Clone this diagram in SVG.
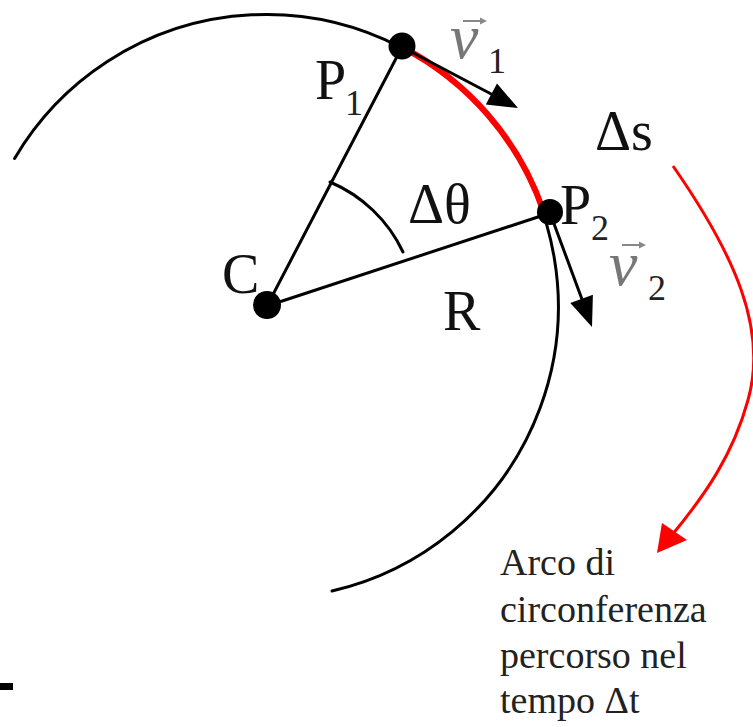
<svg xmlns="http://www.w3.org/2000/svg" width="753" height="727" viewBox="0 0 753 727">
<style>
.ln{fill:none;stroke:#000;stroke-width:3;stroke-linecap:round}
.red{fill:none;stroke:#ff0000}
.lbl{font-family:"Liberation Serif","Times New Roman",serif;font-size:56px;fill:#111}
.sub{font-family:"Liberation Serif","Times New Roman",serif;font-size:36px;fill:#222}
.vec{font-family:"Liberation Serif","Times New Roman",serif;font-style:italic;font-size:64px;fill:#777}
.note{font-family:"Liberation Serif","Times New Roman",serif;font-size:38px;fill:#222}
.va{stroke:#888;stroke-width:2;fill:none}
</style>
<rect width="753" height="727" fill="#fff"/>
<g id="circle">
<path class="ln" d="M14.6,158.5 A292,292 0 1 1 332,591"/>
</g>
<g id="connectors">
<line class="ln" x1="267" y1="306" x2="402" y2="47"/>
<line class="ln" x1="267" y1="306" x2="550" y2="213"/>
<path class="ln" d="M330,182 A142,142 0 0 1 403,252"/>
<path class="red" stroke-width="6" d="M402,47 A292,292 0 0 1 543,210"/>
<line class="ln" x1="402" y1="47" x2="495" y2="96"/>
<polygon points="518,108 485.8,104.6 497,83.4" fill="#000"/>
<line class="ln" x1="550" y1="213" x2="583" y2="302"/>
<polygon points="592,327 570.3,303.1 592.9,294.7" fill="#000"/>
<path class="red" stroke-width="3" d="M673,166 C735,255 768,330 748,400 C733,455 705,495 672,535"/>
<polygon points="657,553 662,523 687,540" fill="#ff0000"/>
</g>
<g id="C">
<circle cx="267" cy="305" r="14" fill="#000"/>
<text class="lbl" x="222" y="293">C</text>
</g>
<g id="P1">
<circle cx="402" cy="46" r="13.5" fill="#000"/>
<text class="lbl" x="315" y="99">P</text>
<text class="sub" x="345" y="115" font-size="40">1</text>
</g>
<g id="P2">
<circle cx="550" cy="212" r="13" fill="#000"/>
<text class="lbl" x="560" y="224">P</text>
<text class="sub" x="591" y="240">2</text>
</g>
<g id="v1">
<text class="vec" x="450" y="58">v</text>
<line class="va" x1="463" y1="21" x2="482" y2="21"/>
<polygon points="487,21 480,17.5 480,24.5" fill="#888"/>
<text class="sub" x="488" y="73">1</text>
</g>
<g id="v2">
<text class="vec" x="609" y="285">v</text>
<line class="va" x1="622" y1="245" x2="641" y2="245"/>
<polygon points="646,245 639,241.5 639,248.5" fill="#888"/>
<text class="sub" x="648" y="300">2</text>
</g>
<g id="labels">
<text class="lbl" x="408" y="223">Δθ</text>
<text class="lbl" x="443" y="330">R</text>
<text class="lbl" x="595" y="150">Δs</text>
</g>
<g id="note">
<text class="note" x="500" y="575">Arco di</text>
<text class="note" x="500" y="622">circonferenza</text>
<text class="note" x="500" y="668">percorso nel</text>
<text class="note" x="500" y="713">tempo Δt</text>
</g>
<rect x="0" y="683" width="13" height="7" fill="#000"/>
</svg>
